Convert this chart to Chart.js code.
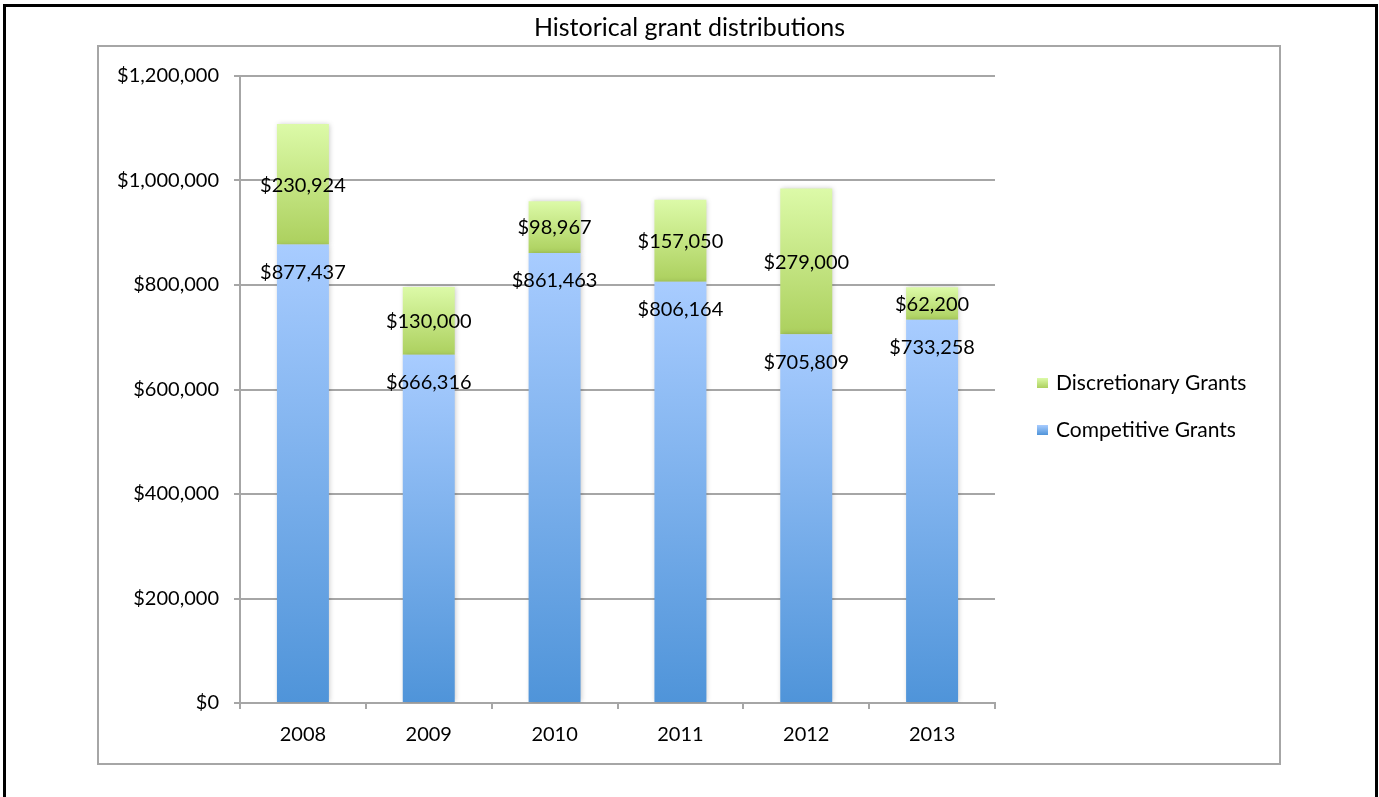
<!DOCTYPE html>
<html>
<head>
<meta charset="utf-8">
<script src="https://cdn.jsdelivr.net/npm/chart.js@4/dist/chart.umd.min.js"></script>
<style>
  html, body { margin: 0; padding: 0; background: #fff; overflow: hidden; }
  #frame { position: absolute; left: 3px; top: 4px; width: 1369px; height: 900px;
           border: 3px solid #000; border-bottom: none; }
  #box { position: absolute; left: 97px; top: 45px; width: 1180px; height: 716px;
         border: 2px solid #a6a6a6; }
  #wrap { position: absolute; left: 0; top: 0; width: 1379px; height: 797px; }
</style>
</head>
<body>
<div id="frame"></div>
<div id="box"></div>
<div id="wrap"><canvas id="Grafica"></canvas></div>
<script>
const years = ['2008', '2009', '2010', '2011', '2012', '2013'];
const competitive = [877437, 666316, 861463, 806164, 705809, 733258];
const discretionary = [230924, 130000, 98967, 157050, 279000, 62200];
const yTicks = [0, 200000, 400000, 600000, 800000, 1000000, 1200000];

const FONT = 'Lato, "Open Sans", sans-serif';

function money(v){
    return '$' + v.toLocaleString('en-US');
}

// vertical gradient per segment, light on top
function segGradient(ctx, top, bottom, light, dark){
    let g = ctx.createLinearGradient(0, top, 0, bottom);
    g.addColorStop(0, light);
    g.addColorStop(1, dark);
    return g;
}

function barColor(light, dark, lowerArr, upperArr){
    return function(context){
        let chart = context.chart;
        if (!chart.chartArea || context.dataIndex === undefined) return dark;
        let y = chart.scales.y;
        let i = context.dataIndex;
        let base = lowerArr ? lowerArr[i] : 0;
        let top = y.getPixelForValue(base + upperArr[i]);
        let bottom = y.getPixelForValue(base);
        return segGradient(chart.ctx, top, bottom, light, dark);
    };
}

const shadowPlugin = {
    id: 'shadow',
    beforeDatasetsDraw(chart){
        let ctx = chart.ctx;
        ctx.save();
        ctx.shadowColor = 'rgba(0,0,0,0.22)';
        ctx.shadowBlur = 5;
        ctx.shadowOffsetX = 1;
        ctx.shadowOffsetY = 0;
    },
    afterDatasetsDraw(chart){
        chart.ctx.restore();
    }
};

const labelPlugin = {
    id: 'barLabels',
    afterDatasetsDraw(chart){
        let ctx = chart.ctx;
        ctx.save();
        ctx.font = '20px ' + FONT;
        ctx.fillStyle = '#000';
        ctx.textAlign = 'center';
        ctx.textBaseline = 'middle';
        chart.data.datasets.forEach((ds, di) => {
            let meta = chart.getDatasetMeta(di);
            meta.data.forEach((bar, i) => {
                let y;
                if (di === 0) { y = bar.y + 28; }
                else { y = (bar.y + bar.base) / 2 + 1; }
                ctx.fillText(money(ds.data[i]), bar.x, y);
            });
        });
        ctx.restore();
    }
};

const legendPlugin = {
    id: 'sideLegend',
    afterDraw(chart){
        let ctx = chart.ctx;
        let area = chart.chartArea;
        let x = area.right + 42;
        let items = [
            {ds: chart.data.datasets[1], light: '#dcfaa8', dark: '#acd05e', y: 383},
            {ds: chart.data.datasets[0], light: '#a8ccff', dark: '#4f94d9', y: 430}
        ];
        ctx.save();
        ctx.font = '21px ' + FONT;
        ctx.textBaseline = 'middle';
        ctx.textAlign = 'left';
        items.forEach(it => {
            ctx.fillStyle = segGradient(ctx, it.y - 5, it.y + 5, it.light, it.dark);
            ctx.fillRect(x, it.y - 5, 11, 10);
            ctx.fillStyle = '#000';
            ctx.fillText(it.ds.label, x + 19, it.y);
        });
        ctx.restore();
    }
};

function makeChart(){
    let ctx = document.getElementById('Grafica').getContext('2d');
    new Chart(ctx, {
        type: 'bar',
        data: {
            labels: years,
            datasets: [
                {
                    label: 'Competitive Grants',
                    data: competitive,
                    backgroundColor: barColor('#a8ccff', '#4f94d9', null, competitive),
                    categoryPercentage: 1,
                    barPercentage: 0.413
                },
                {
                    label: 'Discretionary Grants',
                    data: discretionary,
                    backgroundColor: barColor('#dcfaa8', '#acd05e', competitive, discretionary),
                    categoryPercentage: 1,
                    barPercentage: 0.413
                }
            ]
        },
        options: {
            responsive: false,
            animation: false,
            layout: { padding: 0 },
            plugins: {
                legend: { display: false },
                tooltip: { enabled: false },
                title: {
                    display: true,
                    text: 'Historical grant distributions',
                    color: '#000',
                    font: { family: FONT, size: 25, weight: 'normal', lineHeight: 1.2 },
                    padding: { top: 13, bottom: 33 }
                }
            },
            scales: {
                x: {
                    stacked: true,
                    afterFit(scale){ scale.height = 94; },
                    grid: { drawOnChartArea: false, drawTicks: true, tickLength: 6, color: '#a6a6a6', lineWidth: 2 },
                    border: { color: '#a6a6a6', width: 2 },
                    ticks: { color: '#000', padding: 14, font: { family: FONT, size: 20 } }
                },
                y: {
                    stacked: true,
                    min: 0,
                    max: 1200000,
                    afterFit(scale){ scale.width = 240; },
                    afterBuildTicks(scale){ scale.ticks = yTicks.map(v => ({value: v})); },
                    grid: { color: '#a6a6a6', lineWidth: 2, tickLength: 6 },
                    border: { color: '#a6a6a6', width: 2 },
                    ticks: {
                        color: '#000',
                        padding: 15,
                        font: { family: FONT, size: 20 },
                        callback: v => money(v)
                    }
                },
                // empty right axis that keeps room for the legend
                side: {
                    position: 'right',
                    min: 0,
                    max: 1,
                    afterFit(scale){ scale.width = 384; },
                    grid: { display: false },
                    border: { display: false },
                    ticks: { display: false }
                }
            }
        },
        plugins: [shadowPlugin, labelPlugin, legendPlugin]
    });
}

let cv = document.getElementById('Grafica');
cv.width = 1379;
cv.height = 797;
cv.style.width = '1379px';
cv.style.height = '797px';
makeChart();
</script>
</body>
</html>
